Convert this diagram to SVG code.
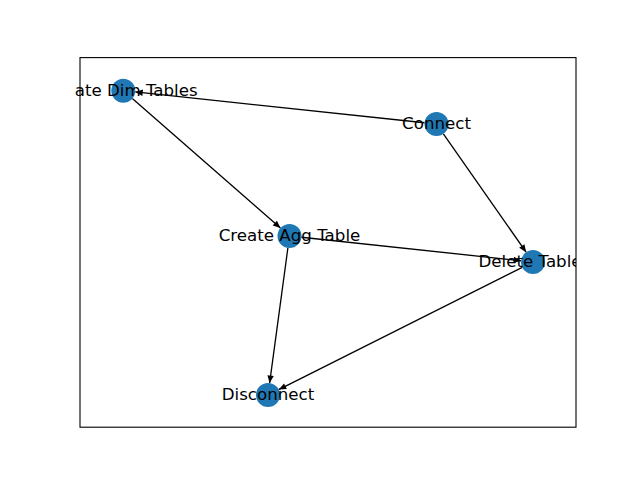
<svg xmlns="http://www.w3.org/2000/svg" width="640" height="480" viewBox="0 0 640 480">
<style>
.edge{stroke:#000;stroke-width:1.3;fill:none;marker-end:url(#ah)}
.node{fill:#1f78b4}
.lbl{font-family:"DejaVu Sans",sans-serif;font-size:16.67px;fill:#000;text-anchor:middle}
</style>
<defs>
<marker id="ah" markerUnits="userSpaceOnUse" markerWidth="10" markerHeight="10" viewBox="0 -5 8 10" refX="7.5" refY="0" orient="auto">
<path d="M0,-3.2 L7.5,0 L0,3.2 z" fill="#000"/>
</marker>
<clipPath id="ax"><rect x="74.5" y="57.6" width="501.5" height="369.6"/></clipPath>
</defs>
<rect width="640" height="480" fill="#fff"/>
<rect x="80" y="57.6" width="496" height="369.6" fill="none" stroke="#000" stroke-width="1.1"/>
<g id="edges">
<line class="edge" x1="424.57" y1="122.73" x2="135.23" y2="91.97"/>
<line class="edge" x1="132.33" y1="98.60" x2="280.47" y2="228.10"/>
<line class="edge" x1="443.38" y1="133.83" x2="526.12" y2="252.17"/>
<line class="edge" x1="301.43" y1="237.27" x2="521.07" y2="260.73"/>
<line class="edge" x1="287.89" y1="247.89" x2="269.61" y2="383.11"/>
<line class="edge" x1="522.27" y1="267.38" x2="278.73" y2="389.62"/>
</g>
<g id="n-create-dim-tables">
<circle class="node" cx="123.3" cy="90.7" r="12"/>
<text class="lbl" x="122" y="95.7" clip-path="url(#ax)">Create Dim Tables</text>
</g>
<g id="n-connect">
<circle class="node" cx="436.5" cy="124" r="12"/>
<text class="lbl" x="436.5" y="129">Connect</text>
</g>
<g id="n-create-agg-table">
<circle class="node" cx="289.5" cy="236" r="12"/>
<text class="lbl" x="289.5" y="241">Create Agg Table</text>
</g>
<g id="n-delete-table">
<circle class="node" cx="533" cy="262" r="12"/>
<text class="lbl" x="530" y="267" clip-path="url(#ax)">Delete Table</text>
</g>
<g id="n-disconnect">
<circle class="node" cx="268" cy="395" r="12"/>
<text class="lbl" x="268" y="400">Disconnect</text>
</g>
</svg>
